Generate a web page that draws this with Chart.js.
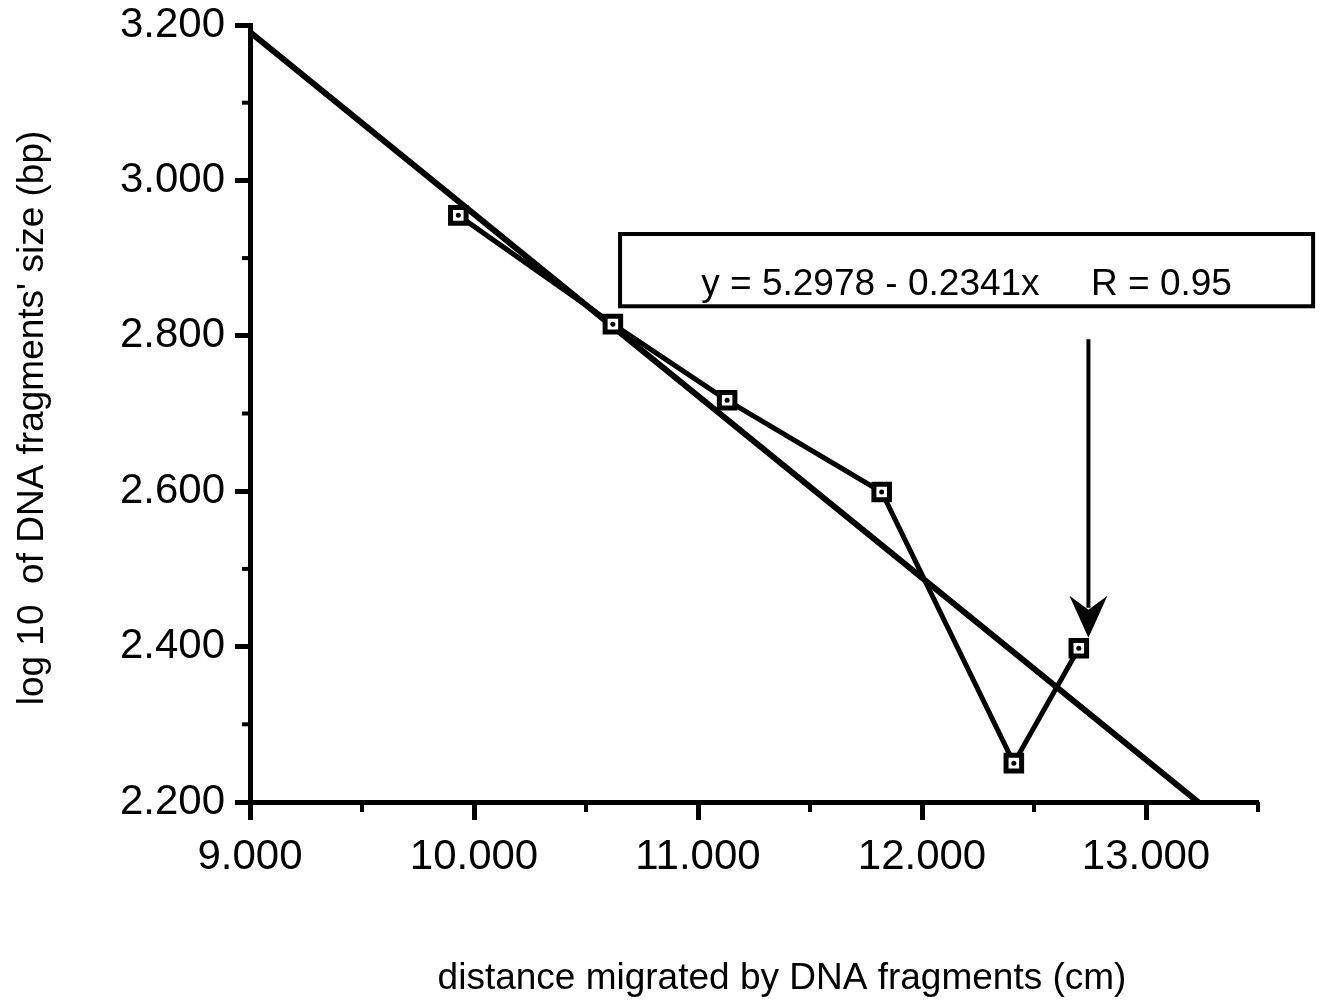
<!DOCTYPE html>
<html>
<head>
<meta charset="utf-8">
<script src="https://cdn.jsdelivr.net/npm/chart.js@4/dist/chart.umd.min.js"></script>
<style>
  html, body { margin: 0; padding: 0; background: #fff; }
  #wrap { width: 1323px; height: 1002px; }
</style>
</head>
<body>
<div id="wrap"><canvas id="c" width="1323" height="1002"></canvas></div>
<script>
// Measured gel migration: distance (cm) vs log10 fragment size (bp)
const distanceCm = [9.93, 10.62, 11.13, 11.82, 12.41, 12.70];
const logSize    = [2.955, 2.815, 2.717, 2.599, 2.250, 2.398];

// Linear fit reported on the chart
const fitIntercept = 5.2978;
const fitSlope     = -0.2341;
const fitR         = 0.95;

// Axis ranges and tick spacing
const xRange = [9, 13.5];
const yRange = [2.2, 3.2];
const xStep = 0.5;
const yStep = 0.1;

const xTitle = 'distance migrated by DNA fragments (cm)';
const yTitle = "log 10  of DNA fragments' size (bp)";
const fitLabel = 'y = ' + fitIntercept.toFixed(4) + ' - ' + Math.abs(fitSlope).toFixed(4) + 'x     R = ' + fitR.toFixed(2);

const FONT = '"Liberation Sans", Arial, Helvetica, sans-serif';

const points = distanceCm.map((x, i) => ({ x, y: logSize[i] }));
// fitted line runs from the left edge until it meets the bottom of the y range
const fitEndX = (fitIntercept - yRange[0]) / -fitSlope;
const fitLine = [xRange[0], fitEndX].map(x => ({ x, y: fitIntercept + fitSlope * x }));

const isMajorX = v => Math.abs(v - Math.round(v)) < 1e-6;
const isMajorY = v => Math.round(v * 10) % 2 === 0;

// short minor ticks, titles, equation box and arrow
const decorations = {
  id: 'decorations',
  afterDraw(chart) {
    const { ctx, chartArea, scales } = chart;
    const xs = scales.x, ys = scales.y;
    ctx.save();
    ctx.strokeStyle = '#000';
    ctx.fillStyle = '#000';

    // minor ticks
    ctx.lineWidth = 4;
    xs.ticks.forEach(t => {
      if (!isMajorX(t.value)) {
        const px = xs.getPixelForValue(t.value);
        ctx.beginPath();
        ctx.moveTo(px, chartArea.bottom);
        ctx.lineTo(px, chartArea.bottom + 10);
        ctx.stroke();
      }
    });
    ys.ticks.forEach(t => {
      if (!isMajorY(t.value)) {
        const py = ys.getPixelForValue(t.value);
        ctx.beginPath();
        ctx.moveTo(chartArea.left - 8, py);
        ctx.lineTo(chartArea.left, py);
        ctx.stroke();
      }
    });

    // axis titles
    ctx.font = '37px ' + FONT;
    ctx.textAlign = 'center';
    ctx.textBaseline = 'alphabetic';
    ctx.fillText(xTitle, 782, 989);
    ctx.save();
    ctx.translate(43, 418);
    ctx.rotate(-Math.PI / 2);
    ctx.fillText(yTitle, 0, 0);
    ctx.restore();

    // equation box
    const bx0 = xs.getPixelForValue(10.652), bx1 = xs.getPixelForValue(13.746);
    const by0 = ys.getPixelForValue(2.931),  by1 = ys.getPixelForValue(2.838);
    ctx.lineWidth = 4;
    ctx.strokeRect(bx0, by0, bx1 - bx0, by1 - by0);
    ctx.font = '37px ' + FONT;
    ctx.fillText(fitLabel, (bx0 + bx1) / 2, ys.getPixelForValue(2.8525));

    // arrow pointing at the last measured point
    const ax = xs.getPixelForValue(12.743);
    const aTop = ys.getPixelForValue(2.7954);
    const aTip = ys.getPixelForValue(2.4113);
    ctx.lineWidth = 4;
    ctx.beginPath();
    ctx.moveTo(ax, aTop);
    ctx.lineTo(ax, aTip - 30);
    ctx.stroke();
    ctx.beginPath();
    ctx.moveTo(ax, aTip);
    ctx.lineTo(ax - 19, aTip - 42);
    ctx.lineTo(ax, aTip - 28);
    ctx.lineTo(ax + 19, aTip - 42);
    ctx.closePath();
    ctx.fill();

    ctx.restore();
  }
};

new Chart(document.getElementById('c'), {
  type: 'scatter',
  data: {
    datasets: [
      {
        label: 'centre',
        data: points,
        showLine: false,
        pointStyle: 'circle',
        pointRadius: 2.5,
        pointBackgroundColor: '#000',
        pointBorderWidth: 0,
        order: 0
      },
      {
        label: 'measured',
        data: points,
        showLine: true,
        borderColor: '#000',
        borderWidth: 5,
        pointStyle: 'rect',
        pointRadius: 11,
        pointBorderWidth: 5,
        pointBorderColor: '#000',
        pointBackgroundColor: '#fff',
        order: 1
      },
      {
        label: 'fit',
        data: fitLine,
        showLine: true,
        borderColor: '#000',
        borderWidth: 6,
        pointRadius: 0,
        order: 2
      }
    ]
  },
  options: {
    responsive: false,
    devicePixelRatio: 1,
    animation: false,
    layout: { padding: { left: 0, top: 25, right: 65, bottom: 0 } },
    plugins: { legend: { display: false }, tooltip: { enabled: false }, title: { display: false } },
    scales: {
      x: {
        type: 'linear',
        min: xRange[0], max: xRange[1],
        afterFit(s) { s.height = 200; s.paddingLeft = 0; s.paddingRight = 0; },
        border: { display: true, color: '#000', width: 5 },
        grid: {
          drawOnChartArea: false,
          drawTicks: true,
          tickLength: 18,
          tickWidth: 5,
          tickColor: c => (c.tick && isMajorX(c.tick.value)) ? '#000' : 'rgba(0,0,0,0)'
        },
        ticks: {
          stepSize: xStep,
          autoSkip: false,
          maxRotation: 0,
          padding: 12,
          color: '#000',
          font: { family: FONT, size: 42 },
          callback: v => isMajorX(v) ? Number(v).toFixed(3) : ''
        }
      },
      y: {
        type: 'linear',
        min: yRange[0], max: yRange[1],
        afterFit(s) { s.width = 250; s.paddingTop = 0; s.paddingBottom = 0; },
        border: { display: true, color: '#000', width: 5 },
        grid: {
          drawOnChartArea: false,
          drawTicks: true,
          tickLength: 15,
          tickWidth: 5,
          tickColor: c => (c.tick && isMajorY(c.tick.value)) ? '#000' : 'rgba(0,0,0,0)'
        },
        ticks: {
          stepSize: yStep,
          autoSkip: false,
          padding: 10,
          color: '#000',
          font: { family: FONT, size: 42 },
          callback: v => isMajorY(v) ? Number(v).toFixed(3) : ''
        }
      }
    }
  },
  plugins: [decorations]
});
</script>
</body>
</html>
